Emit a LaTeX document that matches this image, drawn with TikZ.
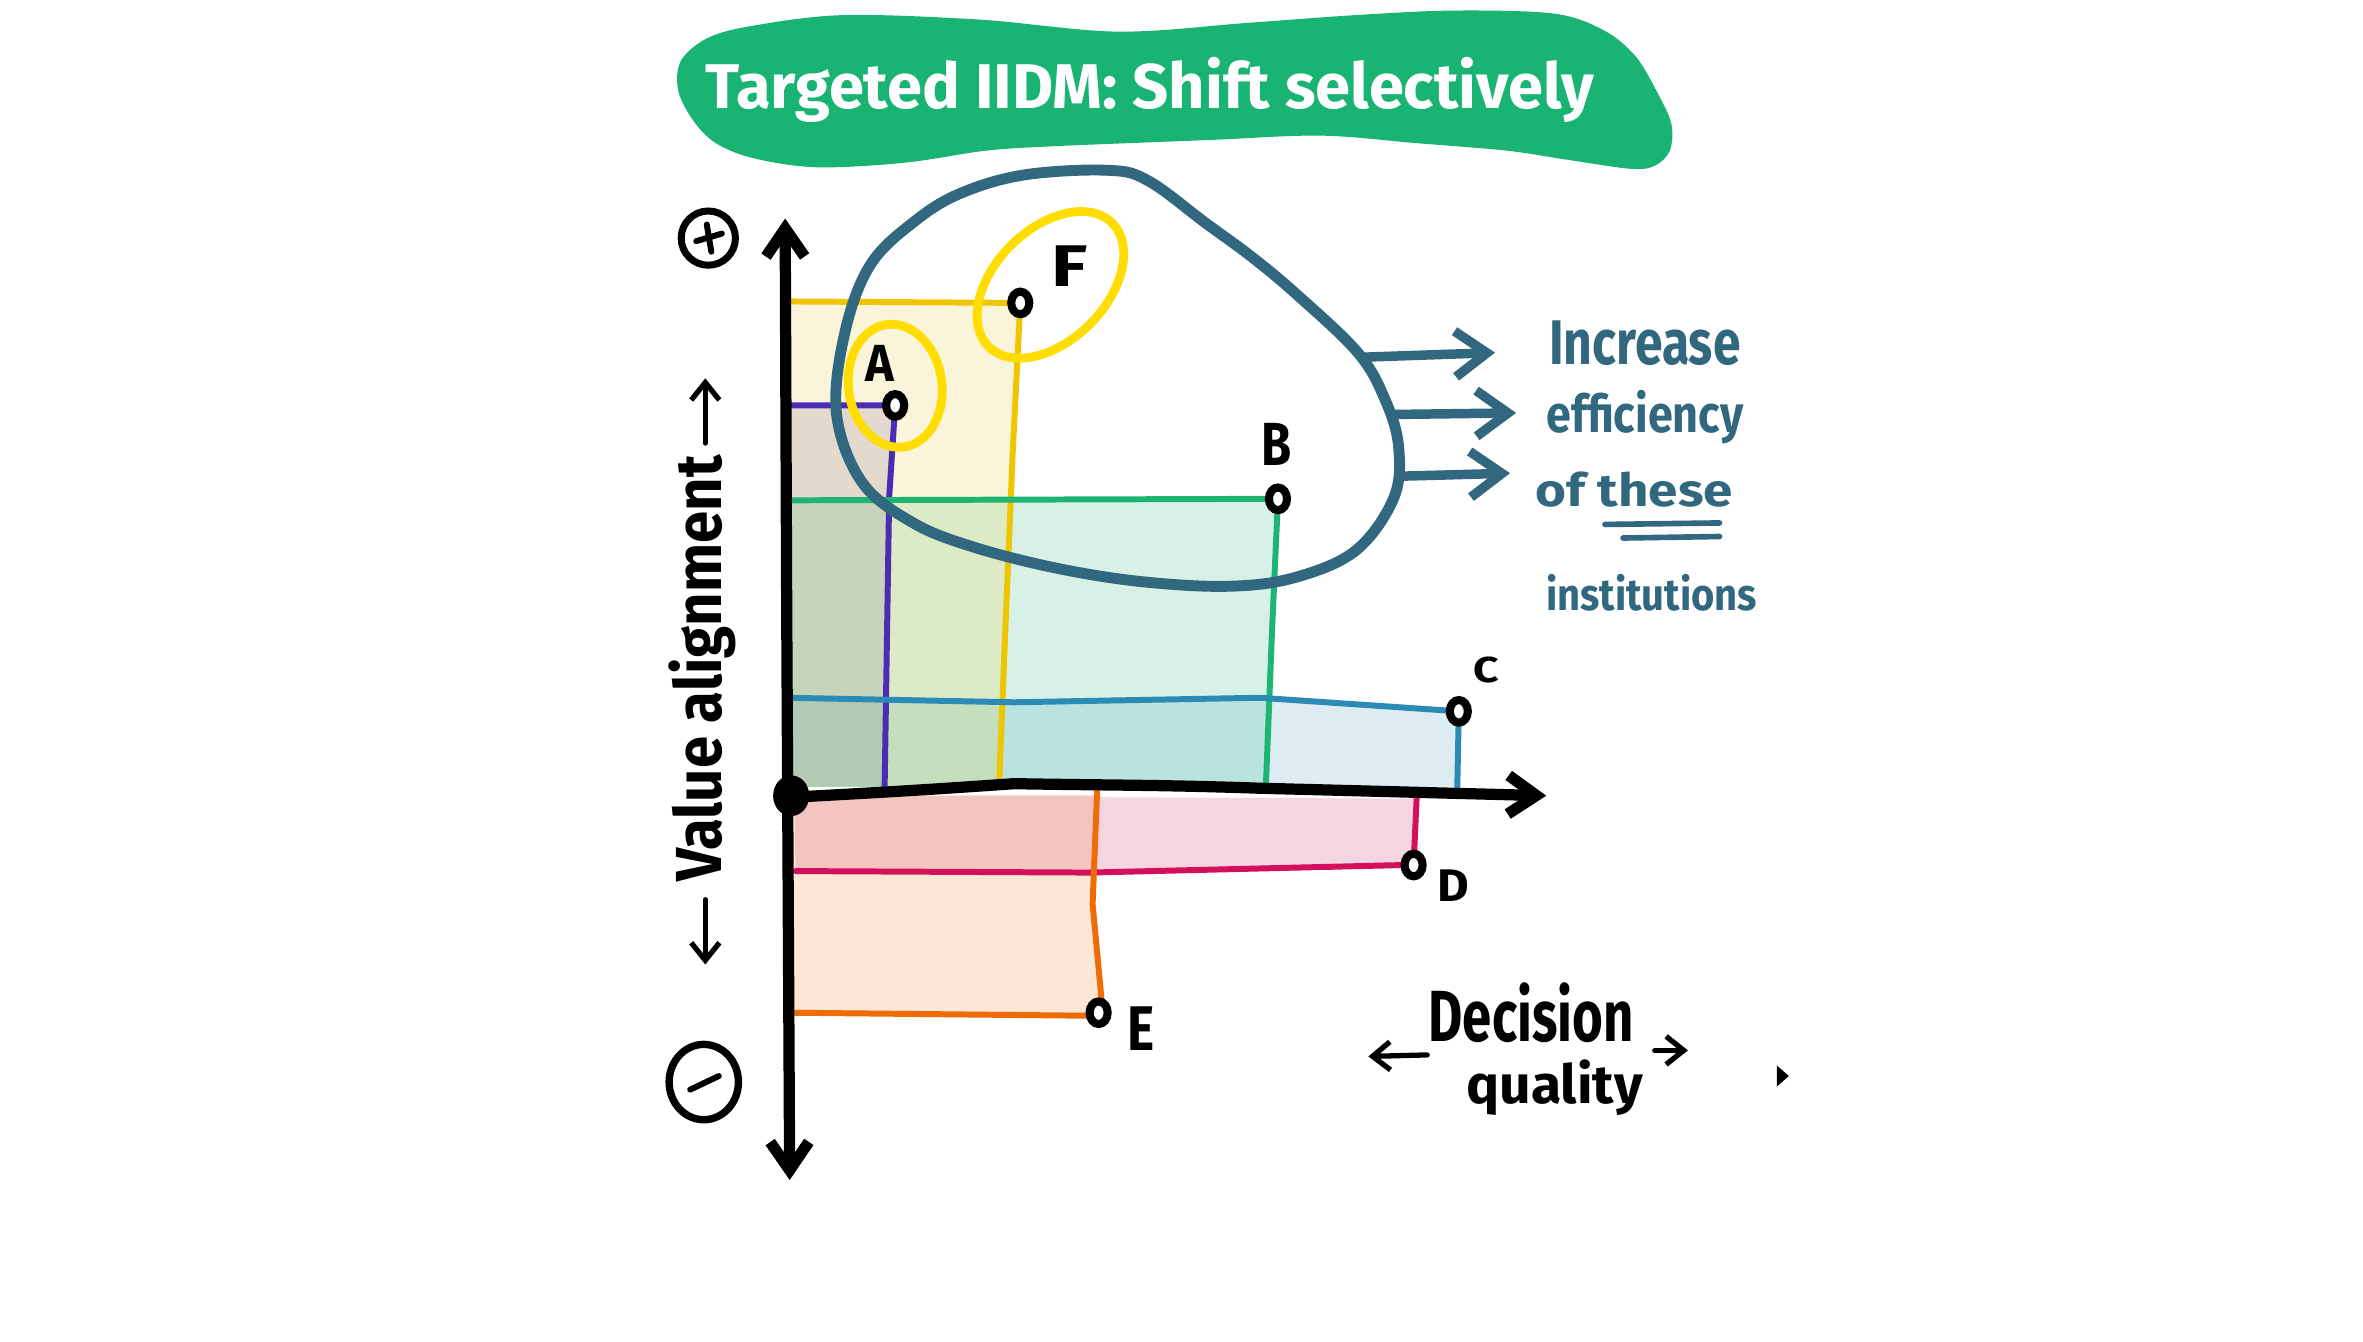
\documentclass[tikz,border=0pt]{standalone}
\usepackage{graphicx}
\usepackage{fontspec}
\setmainfont{Fira Sans}
\usetikzlibrary{arrows.meta,shapes.geometric}
\newdimen\du \du=0.42878pt
\newcommand{\fitt}[3]{\resizebox{#1\du}{#2\du}{\bfseries #3}}
\definecolor{bannerc}{HTML}{19B373}
\definecolor{blobc}{HTML}{31677F}
\definecolor{ycirc}{HTML}{FFDD00}
\definecolor{ylw}{HTML}{EEC500}
\definecolor{prp}{HTML}{4B2DB3}
\definecolor{grn}{HTML}{1DB474}
\definecolor{blu}{HTML}{2B8BB5}
\definecolor{crm}{HTML}{D2105C}
\definecolor{org}{HTML}{EE6B05}
\definecolor{fY}{HTML}{FAF5DA}
\definecolor{fAY}{HTML}{E3D9CD}
\definecolor{fAB}{HTML}{C8D4BA}
\definecolor{fFB}{HTML}{DCEAC6}
\definecolor{fB}{HTML}{D8F1E6}
\definecolor{fABC}{HTML}{B3CBB3}
\definecolor{fFBC}{HTML}{C5DFBD}
\definecolor{fBC}{HTML}{BAE2DE}
\definecolor{fC}{HTML}{DDEBF2}
\definecolor{fD}{HTML}{F5D5E1}
\definecolor{fE}{HTML}{FCE6D6}
\definecolor{fDE}{HTML}{F4C5C0}
\tikzset{
  lbl/.style={inner sep=0pt, outer sep=0pt, anchor=base west},
  ax/.style={line width=3.2pt, line cap=round, line join=round},
  col/.style={line width=1.7pt, line cap=round, line join=round},
  mk/.style={ellipse, draw=black, fill=white, line width=2.3pt, inner sep=0pt, minimum width=12\du, minimum height=15\du},
  yc/.style={draw=ycirc, line width=2.5pt},
  bl/.style={draw=blobc, line width=3.1pt, line cap=round, line join=round},
  blarrow/.style={bl, line width=2.7pt, -{Straight Barb[length=9pt, width=13pt]}},
  axhead/.style={ax, {Straight Barb[length=8pt, width=11pt]}-{Straight Barb[length=8pt, width=11pt]}},
  smarrow/.style={line width=1.5pt, line cap=round, -{Straight Barb[length=5pt, width=8pt]}},
}
\begin{document}
\begin{tikzpicture}[x=0.01507cm, y=-0.01507cm]
\fill[white] (0,0) rectangle (1568,890);
\useasboundingbox (0,0) rectangle (1568,890);

% banner
\fill[bannerc] plot[smooth cycle, tension=0.55] coordinates {(470,25) (500,17) (560,10) (650,13) (742,21) (830,15) (900,10) (965,7) (1031,9) (1064,20) (1085,37) (1099,60) (1109,82) (1108,100) (1098,110) (1082,112) (1040,106) (1000,100) (940,95) (876,90) (800,93) (700,97) (654,100) (600,108) (542,111) (500,105) (475,95) (460,80) (450,60) (452,40)};
\node[lbl, text=white] (title) at (468,72) {\fitt{590}{34}{Targeted IIDM: Shift selectively}};

% point coordinates
\coordinate (A) at (594,269);
\coordinate (F) at (677,201);
\coordinate (B) at (848,331);
\coordinate (C) at (968,472);
\coordinate (D) at (938,574);
\coordinate (E) at (729,672);

% fills above axis
\fill[fY] (521,200) -- (676,201) -- (672,300) -- (667,420) -- (663,522) -- (521,522) -- cycle;
\fill[fB] (521,332) -- (847,332) -- (840,522) -- (521,522) -- cycle;
\fill[fFB] (521,332) -- (671,332) -- (667,420) -- (663,522) -- (521,522) -- cycle;
\fill[fAY] (521,269) -- (592,270) -- (587,522) -- (521,522) -- cycle;
\fill[fAB] (521,332) -- (590,332) -- (587,522) -- (521,522) -- cycle;
\fill[fC] (523,463) -- (673,466) -- (836,463) -- (958,471) -- (968,472) -- (967,522) -- (521,522) -- cycle;
\fill[fBC] (523,463) -- (673,466) -- (836,463) -- (841,463) -- (840,522) -- (521,522) -- cycle;
\fill[fFBC] (523,463) -- (665,466) -- (663,522) -- (521,522) -- cycle;
\fill[fABC] (523,463) -- (588,464) -- (587,522) -- (521,522) -- cycle;
% fills below axis
\fill[fD] (527,528) -- (940,530) -- (938,574) -- (723,579) -- (528,578) -- cycle;
\fill[fE] (527,528) -- (728,528) -- (725,600) -- (730,664) -- (729,672) -- (723,674) -- (526,672) -- cycle;
\fill[fDE] (527,528) -- (728,528) -- (726,579) -- (528,578) -- cycle;

% coloured lines
\draw[col, draw=ylw] (521,200) -- (F) -- (672,300) -- (667,420) -- (663,520);
\draw[col, draw=prp] (521,269) -- (A) -- (590,330) -- (587,522);
\draw[col, draw=grn] (521,332) -- (B) -- (844,420) -- (840,521);
\draw[col, draw=blu] (523,463) -- (673,466) -- (836,463) -- (C) -- (967,522);
\draw[col, draw=crm] (528,578) -- (723,579) -- (931,574) -- (D) -- (940,530);
\draw[col, draw=org] (526,672) -- (723,674) -- (E) -- (731,664) -- (725,600) -- (728,525);

% blob
\draw[bl] plot[smooth cycle, tension=0.6] coordinates {(680,116) (735,113) (762,120) (800,148) (830,170) (860,195) (901,234) (919,265) (928,296) (925,330) (900,365) (860,383) (816,389) (758,386) (701,377) (646,363) (606,347) (572,320) (555,274) (561,219) (578,175) (608,146) (638,128)};
\coordinate (b1) at (905,237);
\coordinate (b2) at (926,275);
\coordinate (b3) at (929,316);
\coordinate (t1) at (992,234);
\coordinate (t2) at (1006,274);
\coordinate (t3) at (1002,314);
\draw[blarrow] (b1) -- (t1);
\draw[blarrow] (b2) -- (t2);
\draw[blarrow] (b3) -- (t3);

% yellow circles
\draw[yc, rotate around={8:(594,256)}] (594,256) ellipse[x radius=31, y radius=41];
\draw[yc, rotate around={45:(697,189)}] (697,189) ellipse[x radius=58, y radius=37];

% axes
\draw[axhead] (521,145) -- (522,400) -- (524,783);
\draw[ax, -{Straight Barb[length=8pt, width=11pt]}] (525,529) to[out=3, in=184] (673,520) to[out=-1, in=178] (835,523) -- (1026,528);
\node[ellipse, fill=black, inner sep=0pt, minimum width=24\du, minimum height=27\du] (O) at (525,528) {};

% markers
\node[mk] (mA) at (A) {};
\node[mk] (mF) at (F) {};
\node[mk] (mB) at (B) {};
\node[mk] (mC) at (C) {};
\node[mk] (mD) at (D) {};
\node[mk] (mE) at (E) {};

% point labels
\node[lbl] (lA) at (574,253) {\fitt{19}{24}{A}};
\node[lbl] (lF) at (698,190) {\fitt{24}{27}{F}};
\node[lbl] (lB) at (837,309) {\fitt{20}{28}{B}};
\node[lbl] (lC) at (978,453) {\fitt{17}{17}{C}};
\node[lbl] (lD) at (954,598) {\fitt{21}{21}{D}};
\node[lbl] (lE) at (748,697) {\fitt{18}{29}{E}};

% plus / minus
\node[circle, draw=black, line width=2pt, minimum size=36\du, inner sep=0pt] (plus) at (470,158) {};
\draw[line width=1.7pt, line cap=round] (462,160) -- (479,155);
\draw[line width=1.7pt, line cap=round] (469,149) -- (472,167);
\node[ellipse, draw=black, line width=2.1pt, minimum width=46\du, minimum height=50\du, inner sep=0pt] (minus) at (467,718) {};
\draw[line width=1.7pt, line cap=round] (458,723) -- (477,714);

% Value alignment
\node[lbl, rotate=90] (va) at (479,585) {\fitt{283}{35}{Value alignment}};
\coordinate (vu0) at (468,294);
\coordinate (vu1) at (468,251);
\coordinate (vd0) at (468,597);
\coordinate (vd1) at (468,640);
\draw[smarrow] (vu0) -- (vu1);
\draw[smarrow] (vd0) -- (vd1);

% Decision quality
\node[lbl] (dq1) at (948,691) {\fitt{136}{39}{Decision}};
\node[lbl] (dq2) at (973,732) {\fitt{117}{29}{quality}};
\coordinate (dl0) at (947,700);
\coordinate (dl1) at (908,701);
\coordinate (dr0) at (1098,697);
\coordinate (dr1) at (1120,697);
\draw[smarrow] (dl0) -- (dl1);
\draw[smarrow] (dr0) -- (dr1);
\fill (1179,707) -- (1187,714) -- (1179,721) -- cycle;

% right text
\node[lbl, text=blobc] (inc) at (1028,242) {\fitt{127}{29}{Increase}};
\node[lbl, text=blobc] (eff) at (1026,287) {\fitt{131}{28}{efficiency}};
\node[lbl, text=blobc] (oft) at (1019,336) {\fitt{131}{23}{of these}};
\draw[blobc, line width=1.6pt, line cap=round] (1065,348) -- (1141,347);
\draw[blobc, line width=1.6pt, line cap=round] (1077,357) -- (1141,356);
\node[lbl, text=blobc] (ins) at (1026,405) {\fitt{140}{24}{institutions}};
\end{tikzpicture}
\end{document}
